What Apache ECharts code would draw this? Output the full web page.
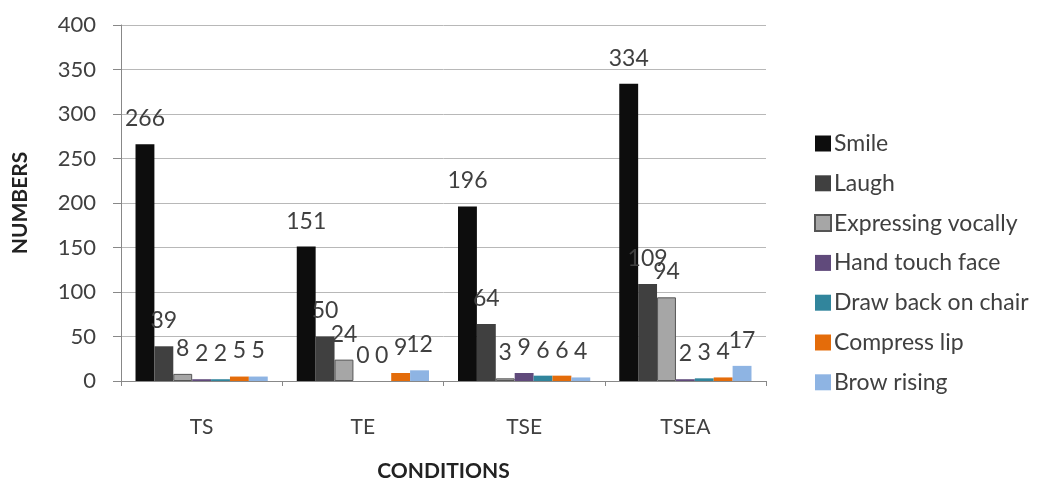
<!DOCTYPE html>
<html><head><meta charset="utf-8">
<script src="https://cdn.jsdelivr.net/npm/echarts@6/dist/echarts.min.js"></script>
<style>html,body{margin:0;padding:0;background:#fff}#c{width:1040px;height:487px}</style>
</head><body><div id="c"></div>
<script>
const categories = ['TS', 'TE', 'TSE', 'TSEA'];
const seriesNames = ['Smile', 'Laugh', 'Expressing vocally', 'Hand touch face', 'Draw back on chair', 'Compress lip', 'Brow rising'];
const smile = [266, 151, 196, 334];
const laugh = [39, 50, 64, 109];
const expressing = [8, 24, 3, 94];
const handTouch = [2, 0, 9, 2];
const drawBack = [2, 0, 6, 3];
const compressLip = [5, 9, 6, 4];
const browRising = [5, 12, 4, 17];
const yTicks = [0, 50, 100, 150, 200, 250, 300, 350, 400];

const values = [smile, laugh, expressing, handTouch, drawBack, compressLip, browRising];
const colors = ['#0d0d0d', '#404040', '#a6a6a6', '#604a7b', '#31859c', '#e46c0a', '#8eb4e3'];
const font = 'Lato, "Open Sans", sans-serif';

const chart = echarts.init(document.getElementById('c'));
chart.setOption({
  animation: false,
  backgroundColor: '#fff',
  textStyle: { fontFamily: font },
  grid: { left: 121, right: 274, top: 25, bottom: 106 },
  legend: {
    orient: 'vertical', left: 809, top: 127, itemGap: 16.8,
    itemWidth: 16, itemHeight: 16, icon: 'rect',
    textStyle: { fontSize: 23, lineHeight: 22, color: '#404040', fontFamily: font, padding: [0, 0, 0, -2] },
    data: seriesNames
  },
  xAxis: {
    type: 'category', data: categories,
    name: 'CONDITIONS', nameLocation: 'middle', nameGap: 80,
    nameTextStyle: { fontSize: 21, fontWeight: 'bold', color: '#222', fontFamily: font },
    axisLine: { lineStyle: { color: '#888' } },
    axisTick: { show: true, alignWithLabel: false, length: 5, lineStyle: { color: '#888' } },
    axisLabel: { fontSize: 21, color: '#404040', margin: 36 }
  },
  yAxis: {
    type: 'value', min: 0, max: 400, interval: 50,
    name: 'NUMBERS', nameLocation: 'middle', nameGap: 90, nameRotate: 90,
    nameTextStyle: { fontSize: 21, fontWeight: 'bold', color: '#222', fontFamily: font },
    axisLine: { show: true, lineStyle: { color: '#888' } },
    axisTick: { show: true, length: 8, inside: false, lineStyle: { color: '#888' } },
    splitLine: { lineStyle: { color: '#b8b8b8' } },
    axisLabel: { fontSize: 22, color: '#404040', margin: 25,
      formatter: v => yTicks.includes(v) ? String(v) : '' }
  },
  series: seriesNames.map((n, i) => ({
    name: n, type: 'bar', data: values[i],
    barGap: '0%', barCategoryGap: '18%',
    itemStyle: { color: colors[i], borderColor: i === 2 ? '#555' : null, borderWidth: i === 2 ? 1 : 0 },
    label: { show: true, position: 'top', distance: 14, fontSize: 23, color: '#404040', fontFamily: font }
  }))
});
</script></body></html>
